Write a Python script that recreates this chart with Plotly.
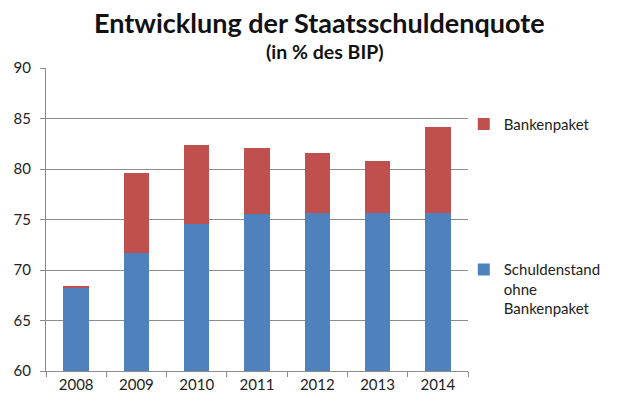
import plotly.graph_objects as go

years = ["2008", "2009", "2010", "2011", "2012", "2013", "2014"]
schuldenstand = [68.2, 71.65, 74.6, 75.55, 75.6, 75.6, 75.6]
bankenpaket = [0.25, 7.95, 7.75, 6.55, 5.95, 5.15, 8.6]

FONT = "Lato, Carlito, 'Open Sans', sans-serif"

fig = go.Figure()
fig.add_trace(go.Bar(
    x=years, y=schuldenstand, name="Schuldenstand<br>ohne<br>Bankenpaket",
    marker=dict(color="#4F81BD", line=dict(width=0)), legendrank=2, legendgroup="a",
))
fig.add_trace(go.Bar(
    x=years, y=bankenpaket, name="Bankenpaket",
    marker=dict(color="#C0504D", line=dict(width=0)), legendrank=1, legendgroup="b",
))

# the page body adds an 8px margin, so the figure is 8px smaller on each side
fig.update_layout(
    width=617, height=409,
    barmode="stack", bargap=0.58,
    paper_bgcolor="white", plot_bgcolor="white",
    margin=dict(l=38, r=157, t=60, b=46, autoexpand=False),
    font=dict(family=FONT, size=15, color="#222222"),
    legend=dict(
        x=0.99, xanchor="left", y=0.869, yanchor="top",
        traceorder="grouped", tracegroupgap=123, valign="top",
        font=dict(family=FONT, size=15, color="#222222"),
        itemwidth=30, bgcolor="rgba(0,0,0,0)",
    ),
    showlegend=True,
    annotations=[
        dict(text="<b>Entwicklung der Staatsschuldenquote</b>", x=0.649, xref="paper",
             y=1 + 46 / 303, yref="paper", xanchor="center", yanchor="middle", showarrow=False,
             height=30, valign="middle",
             font=dict(family=FONT, size=27, color="#111111")),
        dict(text="<b>(in % des BIP)</b>", x=0.661, xref="paper",
             y=1 + 16.5 / 303, yref="paper", xanchor="center", yanchor="middle", showarrow=False,
             height=22, valign="middle",
             font=dict(family=FONT, size=19.5, color="#111111")),
    ],
)

fig.update_yaxes(
    range=[60, 90], dtick=5, tick0=60,
    showgrid=True, gridcolor="#8c8c8c", gridwidth=1,
    showline=True, linecolor="#8c8c8c", linewidth=1,
    ticks="outside", ticklen=5, tickcolor="#8c8c8c",
    zeroline=False, ticklabelstandoff=6,
)
fig.update_xaxes(
    type="category",
    showline=True, linecolor="#8c8c8c", linewidth=1,
    ticks="outside", ticklen=5, tickcolor="#8c8c8c", tickson="boundaries",
    showgrid=False,
)

fig.write_html("out.html")
